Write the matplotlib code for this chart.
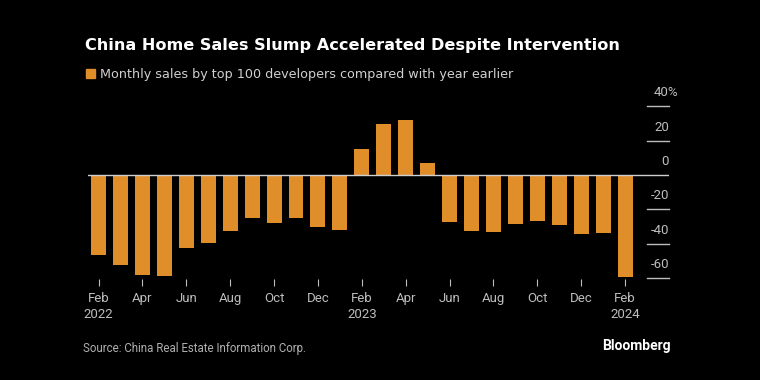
import matplotlib.pyplot as plt
from matplotlib.patches import Rectangle

# data: y/y change of monthly sales, top 100 developers (%)
months = ['Feb', 'Mar', 'Apr', 'May', 'Jun', 'Jul', 'Aug', 'Sep', 'Oct', 'Nov', 'Dec', 'Jan',
          'Feb', 'Mar', 'Apr', 'May', 'Jun', 'Jul', 'Aug', 'Sep', 'Oct', 'Nov', 'Dec', 'Jan', 'Feb']
sales_yoy = [-46.7, -52.1, -57.9, -58.9, -42.6, -39.3, -32.3, -24.8, -27.9, -25.0, -30.4, -32.2,
             15.1, 29.7, 32.0, 7.2, -27.5, -32.6, -33.3, -28.7, -26.7, -29.1, -34.1, -33.5, -59.5]
tick_labels = ['Feb\n2022', 'Apr', 'Jun', 'Aug', 'Oct', 'Dec', 'Feb\n2023',
               'Apr', 'Jun', 'Aug', 'Oct', 'Dec', 'Feb\n2024']
y_ticks = [40, 20, 0, -20, -40, -60]

bg = 'black'
orange = '#E08E2A'
grey = '#bdbdbd'

plt.rcParams['font.family'] = ['Roboto', 'DejaVu Sans']

fig = plt.figure(figsize=(7.6, 3.8), dpi=100, facecolor=bg)
ax = fig.add_axes([88 / 760, 1 - 278.5 / 380, 581 / 760, 183.5 / 380])
ax.set_facecolor(bg)

x = list(range(len(sales_yoy)))
ax.bar(x, sales_yoy, width=0.68, color=orange, zorder=2)
ax.axhline(0, color='#cfcfcf', lw=1, zorder=3)

ax.set_xlim(-0.48, 26.0)
ax.set_ylim(-60.2, 46.5)

# x ticks every two months
ax.set_xticks(x[::2])
ax.set_xticklabels(tick_labels, color=grey, fontsize=9.5, linespacing=1.25)
ax.tick_params(axis='x', length=5, width=0.8, color=grey, pad=5)
ax.set_yticks([])
for s in ax.spines.values():
    s.set_visible(False)

# right-hand labels sitting above short gridlines
trans = ax.get_yaxis_transform()
x0 = (646.5 - 88) / 581
for v in y_ticks:
    if v != 0:
        ax.plot([x0, 1.0], [v, v], color=grey, lw=1, transform=trans, clip_on=False)
    ax.text(1.0, v + 4.0, str(v), transform=trans, ha='right', va='bottom',
            color=grey, fontsize=9.5)
ax.annotate('%', (1.0, 44.0), xycoords=trans, xytext=(-1, 0), textcoords='offset points',
            ha='left', va='bottom', color=grey, fontsize=9.5)

fig.text(85 / 760, 1 - 50 / 380, 'China Home Sales Slump Accelerated Despite Intervention',
         color='white', fontsize=11.6, fontweight='bold', va='baseline', family='DejaVu Sans')
fig.patches.append(Rectangle((86 / 760, 1 - 78 / 380), 9 / 760, 9 / 380,
                             transform=fig.transFigure, color=orange))
fig.text(100 / 760, 1 - 78 / 380, 'Monthly sales by top 100 developers compared with year earlier',
         color='#d0d0d0', fontsize=9.15, va='baseline', family='DejaVu Sans')
fig.text(83 / 760, 1 - 352 / 380, 'Source: China Real Estate Information Corp.',
         color='#b0b0b0', fontsize=8.3, va='baseline')
fig.text(671 / 760, 1 - 350 / 380, 'Bloomberg', color='white', fontsize=10,
         fontweight='bold', ha='right', va='baseline')

fig.savefig('out.png', dpi=100, facecolor=bg)
